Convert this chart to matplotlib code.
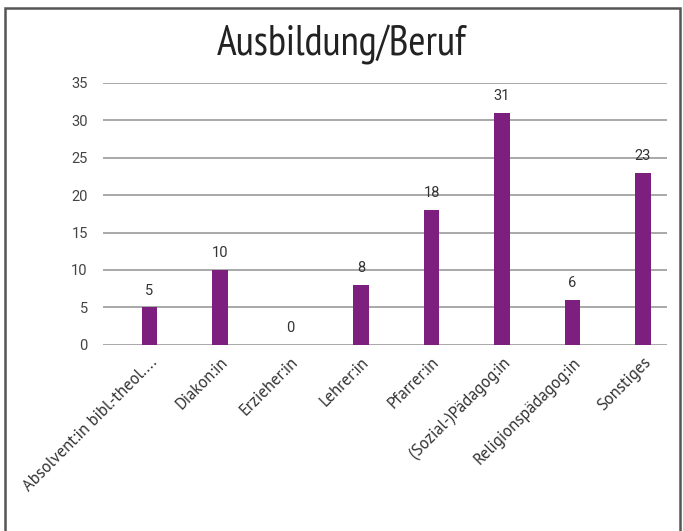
import matplotlib
matplotlib.use("Agg")
import matplotlib.pyplot as plt
from matplotlib.patches import Rectangle

categories = ["Absolvent:in bibl.-theol....", "Diakon:in", "Erzieher:in", "Lehrer:in",
              "Pfarrer:in", "(Sozial-)Pädagog:in", "Religionspädagog:in", "Sonstiges"]
values = [5, 10, 0, 8, 18, 31, 6, 23]
yticks = [0, 5, 10, 15, 20, 25, 30, 35]
title = "Ausbildung/Beruf"

fig = plt.figure(figsize=(6.83, 5.31), dpi=100)
ax = fig.add_axes([0.1508, 0.3503, 0.8258, 0.4943])

x = list(range(len(categories)))
ax.bar(x, values, width=0.22, color="#7d1f7f", zorder=3)
for xi, v in zip(x, values):
    ax.annotate(str(v), (xi, v), xytext=(0, 7), textcoords="offset points",
                ha="center", va="bottom", fontsize=10.5, color="#333333", family="Roboto")

ax.set_xlim(-0.66, 7.34)
ax.set_ylim(0, 35)
ax.set_yticks(yticks)
ax.set_yticklabels([str(t) for t in yticks], family="Roboto", fontsize=10.5, color="#444444")
ax.yaxis.grid(True, color="#999999", linewidth=1.2, zorder=0)
ax.tick_params(axis="y", length=0, pad=11)
ax.tick_params(axis="x", length=0, pad=7)
ax.set_xticks(x)
ax.set_xticklabels(categories, rotation=45, ha="right", rotation_mode="anchor",
                   family=["PT Sans", "DejaVu Sans"], fontsize=12, color="#333333")
for lbl in ax.get_xticklabels():
    lbl.set_x(lbl.get_position()[0])
for s in ax.spines.values():
    s.set_visible(False)

fig.text(0.50, 0.896, title, ha="center", va="baseline", fontsize=30,
         family=["PT Sans Narrow", "DejaVu Sans"], color="#222222")

fig.patches.append(Rectangle((0.007, -0.05), 0.988, 1.035, transform=fig.transFigure,
                             fill=False, edgecolor="#555555", linewidth=1.8))

fig.savefig("out.png", dpi=100)
